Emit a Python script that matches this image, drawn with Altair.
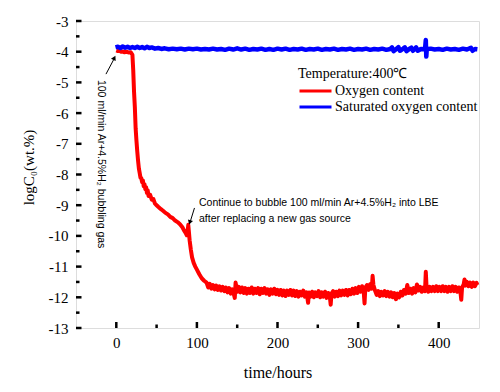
import altair as alt
import pandas as pd

# ---------------- data ----------------
red_t = [0, 2, 4, 6, 8, 10, 12, 14, 16, 18, 20,
         21, 22, 23, 24, 25, 26, 27, 28, 29, 30, 31, 32, 33, 34, 35, 36, 37, 38, 39, 40,
         42, 44, 46, 48, 50, 52, 55, 58, 61, 64, 67, 70, 73, 76, 79, 82, 84, 86, 87.5,
         88.5, 89.3, 90, 91, 92.5, 94, 96, 98, 100, 103, 106, 109,
         112, 114, 116, 118, 120, 122, 124, 126, 128, 130, 132, 134, 136, 138, 140, 142, 144, 146, 147, 148,
         150, 152, 154, 156, 158, 160, 162, 164, 166, 168, 170, 172, 174, 176, 178, 180, 182, 184, 186, 188,
         190, 192, 194, 196, 198, 200,
         202, 204, 206, 208, 210, 212, 214, 216, 218, 220, 222, 224, 226, 228, 230, 232, 234, 236, 238, 239,
         241, 243, 245, 247, 249, 251, 253, 255, 257, 259, 261, 263, 265, 266, 267, 269, 271, 273, 275, 277,
         279, 281, 283, 285, 287, 289, 291, 293, 295, 297, 299, 301, 303, 305, 307, 308, 309, 311, 313, 315,
         317, 318, 319, 321, 323, 325, 327, 329, 331, 333, 335, 337, 339, 341, 343, 345, 347, 349, 351, 353,
         355, 357, 359, 361, 363, 365, 367, 369, 371, 373, 375, 377, 379, 381, 383, 384, 385, 387, 389, 391,
         393, 395, 397, 399, 401, 403, 405, 407, 409, 411, 413, 415, 417, 419, 421, 423, 425, 427, 428, 429,
         431, 432, 433, 435, 437, 439, 441, 443, 445, 447, 448]
red_v = [-3.96, -3.98, -3.97, -4.0, -3.99, -4.02, -4.0, -4.01, -4.03, -4.02, -4.1,
         -4.6, -5.3, -5.8, -6.5, -6.9, -7.25, -7.55, -7.8, -7.95, -8.1, -8.12, -8.25, -8.2, -8.38, -8.32, -8.48, -8.42, -8.6, -8.52, -8.7,
         -8.66, -8.82, -8.8, -8.95, -9.0, -9.05, -9.12, -9.18, -9.25, -9.3, -9.38, -9.42, -9.5, -9.55, -9.62, -9.72, -9.82, -9.9, -9.98,
         -9.86, -9.64, -9.85, -10.15, -10.45, -10.7, -10.88, -11.0, -11.1, -11.25, -11.38, -11.46,
         -11.52, -11.68, -11.56, -11.72, -11.6, -11.74, -11.62, -11.76, -11.64, -11.78, -11.66, -11.8, -11.68, -11.84, -11.7, -11.88, -11.74, -11.92, -12.02, -11.52,
         -11.82, -11.66, -11.84, -11.68, -11.86, -11.7, -11.88, -11.72, -11.86, -11.68, -11.88, -11.72, -11.86, -11.7, -11.9, -11.72, -11.86, -11.7, -11.88, -11.74,
         -11.92, -11.74, -11.88, -11.72, -11.9, -11.76,
         -11.92, -11.76, -11.94, -11.78, -11.96, -11.78, -11.92, -11.76, -11.94, -11.78, -11.96, -11.8, -11.98, -11.82, -11.94, -11.78, -11.98, -11.84, -12.18, -11.84,
         -11.98, -11.82, -12.0, -11.84, -11.96, -11.8, -12.0, -11.84, -11.98, -11.82, -12.02, -11.86, -12.0, -12.24, -11.88, -11.8, -11.98, -11.82, -11.96, -11.78,
         -11.94, -11.78, -11.92, -11.76, -11.94, -11.76, -11.9, -11.72, -11.88, -11.7, -11.86, -11.66, -11.82, -11.64, -11.84, -12.2, -11.68, -11.6, -11.76, -11.58,
         -11.72, -11.3, -11.6, -11.78, -11.92, -11.8, -11.96, -11.82, -11.94, -11.8, -11.96, -11.82, -11.98, -11.84, -12.0, -11.86, -12.06, -11.88, -12.0, -11.82,
         -11.94, -11.76, -11.88, -11.6, -11.86, -11.72, -11.88, -11.7, -11.84, -11.58, -11.78, -11.66, -11.82, -11.68, -11.8, -11.17, -11.7, -11.82, -11.66, -11.8,
         -11.66, -11.8, -11.64, -11.8, -11.66, -11.8, -11.64, -11.8, -11.66, -11.82, -11.66, -11.8, -11.64, -11.8, -11.66, -11.82, -11.68, -11.84, -12.08, -11.68,
         -11.58, -11.42, -11.62, -11.5, -11.64, -11.52, -11.66, -11.52, -11.64, -11.53, -11.6]

blue_t = [-1, 2, 5, 8, 11, 14, 17, 20, 23, 26, 29, 32, 35, 38, 41, 44, 48, 52, 56, 60,
          65, 70, 75, 80, 85, 90, 95, 100, 105, 110, 115, 120, 125, 130, 135, 140, 145, 150, 155, 160,
          165, 170, 175, 180, 185, 190, 195, 200, 205, 210, 215, 220, 225, 230, 235, 240, 245, 250, 255, 260,
          265, 270, 275, 280, 285, 290, 295, 300, 305, 310, 315, 320, 325, 330, 335, 340, 342, 344, 348, 350,
          352, 356, 358, 360, 364, 366, 368, 372, 374, 378, 383, 384, 384.6, 385.2, 390, 395, 400, 405, 410, 415,
          420, 425, 430, 435, 440, 442, 445, 448]
blue_v = [-3.86, -3.84, -3.88, -3.83, -3.87, -3.84, -3.88, -3.85, -3.88, -3.84, -3.88, -3.85, -3.89, -3.84, -3.88, -3.86, -3.9, -3.88, -3.91, -3.89,
          -3.92, -3.9, -3.92, -3.9, -3.93, -3.9, -3.92, -3.9, -3.93, -3.91, -3.93, -3.9, -3.93, -3.91, -3.94, -3.9, -3.93, -3.89, -3.93, -3.9,
          -3.94, -3.91, -3.93, -3.9, -3.94, -3.91, -3.94, -3.9, -3.93, -3.9, -3.94, -3.91, -3.93, -3.9, -3.94, -3.91, -3.93, -3.9, -3.94, -3.91,
          -3.93, -3.9, -3.94, -3.91, -3.93, -3.9, -3.94, -3.91, -3.93, -3.9, -3.94, -3.91, -3.93, -3.9, -3.94, -3.91, -3.86, -3.98, -3.9, -3.85,
          -3.97, -3.9, -3.86, -3.98, -3.9, -3.87, -3.97, -3.86, -3.97, -3.91, -3.92, -3.62, -4.16, -3.92, -3.9, -3.93, -3.91, -3.94, -3.9, -3.93,
          -3.91, -3.94, -3.9, -3.93, -3.87, -3.97, -3.91, -3.92]

series_names = ["Oxygen content", "Saturated oxygen content"]
series_colors = ["#ff0000", "#0000ff"]

x_major = [0, 100, 200, 300, 400]
x_minor = [50, 150, 250, 350]
y_major = [-3, -4, -5, -6, -7, -8, -9, -10, -11, -12, -13]
y_minor = [-3.5, -4.5, -5.5, -6.5, -7.5, -8.5, -9.5, -10.5, -11.5, -12.5]

# annotations (data units)
note1_text = ["100 ml/min Ar+4.5%H\u2082 bubbling gas"]
note1_t = [-19.0]
note1_v = [-4.92]
note2_text = ["Continue to bubble 100 ml/min Ar+4.5%H\u2082 into LBE",
              "after replacing a new gas source"]
note2_t = [102.6, 102.6]
note2_v = [-8.94, -9.46]
arrow_id = ["a1", "a1", "a2", "a2"]
arrow_t = [-12.8, -2.9, 97.0, 91.8]
arrow_v = [-4.73, -4.24, -9.09, -9.53]
head_t = [-2.4, 91.2]
head_v = [-4.2, -9.56]
head_angle = [27, 197]

# ---------------- chart ----------------
W, H = 403, 307
SERIF = "Liberation Serif"
SANS = "Liberation Sans"

xs = alt.Scale(domain=[-50, 450], nice=False, zero=False)
ys = alt.Scale(domain=[-13, -3], nice=False, zero=False)
cs = alt.Scale(domain=series_names, range=series_colors)

x_axis = alt.Axis(values=x_major, ticks=False, domain=False, grid=False, labelOverlap=False,
                  labelFont=SERIF, labelFontSize=15, labelColor="black", labelPadding=7,
                  title="time/hours", titleFont=SERIF, titleFontSize=16, titleFontWeight="normal",
                  titleColor="black", titleY=44, titleBaseline="middle")
y_axis = alt.Axis(values=y_major, ticks=False, domain=False, grid=False, labelOverlap=False,
                  labelExpr="'' + datum.value",
                  labelFont=SERIF, labelFontSize=15, labelColor="black", labelPadding=8,
                  title="logC\u2080(wt.%)", titleFont=SERIF, titleFontSize=15, titleFontWeight="normal",
                  titleColor="black", titleX=-48, titleY=146, titleAngle=-90,
                  titleAlign="center", titleBaseline="middle")


def X(field="t"):
    return alt.X(f"{field}:Q", scale=xs, axis=x_axis)


def Y(field="v"):
    return alt.Y(f"{field}:Q", scale=ys, axis=y_axis)


legend = alt.Legend(orient="none", legendX=222, legendY=46,
                    title="Temperature:400\u2103", titleFont=SERIF, titleFontSize=14,
                    titleFontWeight="normal", titleColor="black", titlePadding=2,
                    labelFont=SERIF, labelFontSize=14, labelColor="black", labelOffset=2,
                    symbolType="stroke", symbolSize=1024, symbolStrokeWidth=3,
                    clipHeight=16, rowPadding=0, padding=0)

red_df = pd.DataFrame({"t": red_t, "v": red_v, "s": series_names[0]})
blue_df = pd.DataFrame({"t": blue_t, "v": blue_v, "s": series_names[1]})

red_line = alt.Chart(red_df).mark_line(strokeWidth=4, strokeJoin="round").encode(
    x=X(), y=Y(), color=alt.Color("s:N", scale=cs, legend=legend))
blue_line = alt.Chart(blue_df).mark_line(strokeWidth=4.5, strokeJoin="round").encode(
    x=X(), y=Y(), color=alt.Color("s:N", scale=cs, legend=legend))

xmaj = alt.Chart(pd.DataFrame({"t": x_major})).mark_rule(color="black", strokeWidth=2.5).encode(
    x=X(), y=alt.value(H - 6), y2=alt.value(H))
xmin = alt.Chart(pd.DataFrame({"t": x_minor})).mark_rule(color="black", strokeWidth=2.5).encode(
    x=X(), y=alt.value(H - 3.5), y2=alt.value(H))
ymaj = alt.Chart(pd.DataFrame({"v": y_major})).mark_rule(color="black", strokeWidth=2.5).encode(
    y=Y(), x=alt.value(0), x2=alt.value(5.5))
ymin = alt.Chart(pd.DataFrame({"v": y_minor})).mark_rule(color="black", strokeWidth=2.5).encode(
    y=Y(), x=alt.value(0), x2=alt.value(3.5))

n1 = alt.Chart(pd.DataFrame({"t": note1_t, "v": note1_v, "txt": note1_text})).mark_text(
    angle=90, align="left", baseline="middle", font=SANS, fontSize=10.5, color="black").encode(
    x=X(), y=Y(), text="txt:N")
n2 = alt.Chart(pd.DataFrame({"t": note2_t, "v": note2_v, "txt": note2_text})).mark_text(
    align="left", baseline="middle", font=SANS, fontSize=10.5, color="black").encode(
    x=X(), y=Y(), text="txt:N")

arrows = alt.Chart(pd.DataFrame({"id": arrow_id, "t": arrow_t, "v": arrow_v})).mark_line(
    color="black", strokeWidth=1).encode(x=X(), y=Y(), detail="id:N")
heads = alt.Chart(pd.DataFrame({"t": head_t, "v": head_v, "a": head_angle})).mark_point(
    shape="triangle-up", filled=True, color="black", size=28, opacity=1).encode(
    x=X(), y=Y(), angle=alt.Angle("a:Q", scale=None))

chart = alt.layer(red_line, blue_line, xmaj, xmin, ymaj, ymin, n1, n2, arrows, heads).properties(
    width=W, height=H,
    autosize=alt.AutoSizeParams(type="none"),
    padding={"left": 68, "top": 13, "right": 12, "bottom": 52},
).configure_view(stroke="black", strokeWidth=2.5).configure(background="white")

chart.save("out.html", embed_options={"renderer": "svg", "actions": False})
